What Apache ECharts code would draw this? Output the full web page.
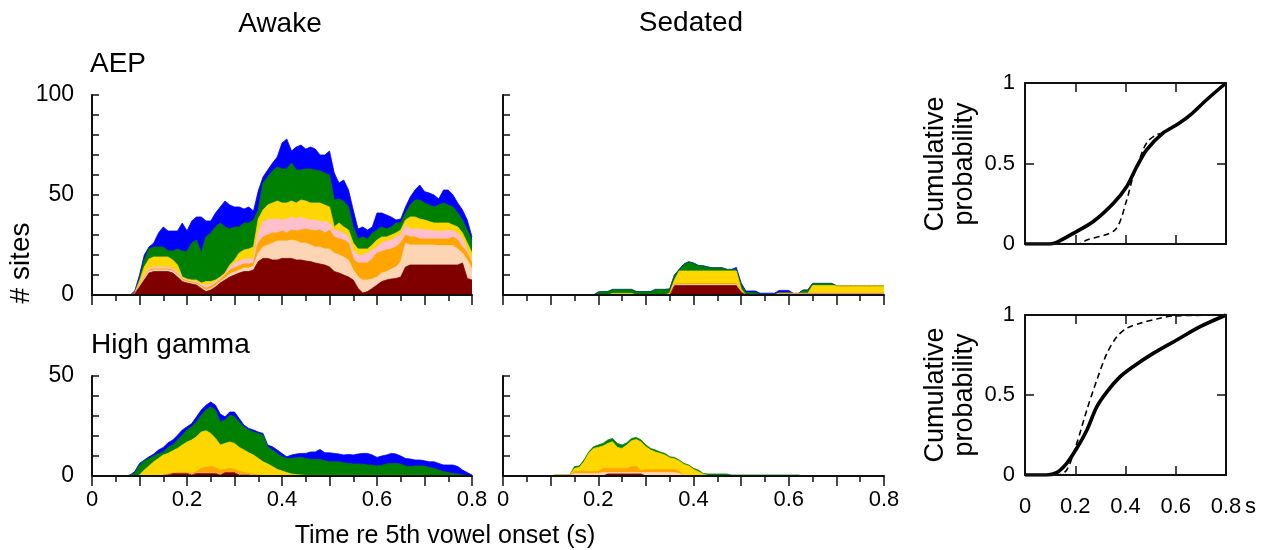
<!DOCTYPE html>
<html><head><meta charset="utf-8">
<script src="https://cdn.jsdelivr.net/npm/echarts@6/dist/echarts.min.js"></script>
<style>html,body{margin:0;padding:0;background:#fff}#c{width:1266px;height:550px}</style>
</head><body><div id="c"></div>
<script>
// ---------- time grid (s) ----------
const T = [0,0.01,0.02,0.03,0.04,0.05,0.06,0.07,0.08,0.09,
 0.10,0.11,0.12,0.13,0.14,0.15,0.16,0.17,0.18,0.19,
 0.20,0.21,0.22,0.23,0.24,0.25,0.26,0.27,0.28,0.29,
 0.30,0.31,0.32,0.33,0.34,0.35,0.36,0.37,0.38,0.39,
 0.40,0.41,0.42,0.43,0.44,0.45,0.46,0.47,0.48,0.49,
 0.50,0.51,0.52,0.53,0.54,0.55,0.56,0.57,0.58,0.59,
 0.60,0.61,0.62,0.63,0.64,0.65,0.66,0.67,0.68,0.69,
 0.70,0.71,0.72,0.73,0.74,0.75,0.76,0.77,0.78,0.79,
 0.80];

// ---------- Awake AEP: cumulative top of each layer (# sites) ----------
const aBlue = [0,0,0,0,0,0,0,0,0,2, 10,20,24,26,31,34,32,32,32,36, 32,37,39,39,37,37,41,44,47,45,
 44,44,43,44,42,52,59,62.5,66,69, 76,78,72,74,75,73,74,73,70,70, 72,61,56,57.5,52.5,42.5,33,34,32.5,34,
 41,41,40,39,37.5,38,44,49,52.5,55, 51.7,51,50,48,52.5,52.5,50,46,42.5,37.5, 29];
const aGreen = [0,0,0,0,0,0,0,0,0,1.5, 8,17.5,23,24,24,24,22,22,23,22, 21.7,26,27.5,21,29,31,34,36,34,33,
 34,34,36,36,37.5,42.5,56,59,62,64, 63,63,66,62.5,62.5,63,63,62.5,62,61, 60,47.5,48,47,44,34,28,29,28,31,
 32.5,34,33,34,36,36,41,45,47.5,47.5, 46,45,44,45,46,45,44,41,37.5,32.5, 27.5];
const aGold = [0,0,0,0,0,0,0,0,0,1.2, 7,14,18,19,19,19,19,17.5,15,9, 8,7.5,7.5,6,6.7,6.7,7.5,9,11,15,
 17.5,21,22.5,23,24,38,42.5,45,46,47, 46,46,47,46,47.5,47,46,46,46,45, 44,34,36,34,32.5,26,23,23,23,25,
 27.5,29,29,30,31,32.5,37.5,39,39,38, 37.5,36.7,36,36,36,36,35,34,31,26, 21];
const aPink = [0,0,0,0,0,0,0,0,0,1, 5.5,10,13.5,14,14,14,14,13.5,11.5,8.5, 7.5,7,6.8,5.3,5,5.5,6.8,8.5,10.5,14,
 16,17,18,18,18.5,31,36.7,37.5,38,38, 37.5,38,39,38,39,38,37.5,37.5,36.7,36.7, 36,32.5,32,31,29,22.5,20,20,21,22.5,
 24,26,27,27.5,29,30,35,33,33,33, 32.5,32.5,32,32,32,32.5,32,31,28,22.5, 17.5];
const aOrange = [0,0,0,0,0,0,0,0,0,1, 5,9,12.5,13,13,13,13,12.5,10.5,8, 7,6.5,6,4.5,3.5,4.2,5.8,7.8,10,12.5,
 13.5,14.5,15.5,15.5,16,26,29,30,31,31, 32,31,32.5,32,32.5,33,32.5,32,32.5,31, 32.5,29,28,27.5,26,18,16,16,16,18,
 21,21.7,22.5,23,24,26,30,29,29,28, 28,28,28,28,28,28,29,27.5,24,21, 16];
const aPeach = [0,0,0,0,0,0,0,0,0,1, 4.5,8.5,12,12.5,12.5,12.5,12.5,12,10,7.5, 6.5,6,5.5,4,2.5,3.2,4.8,6.8,8.5,10.5,
 11.5,12.5,13.5,13.5,14.5,21,24,25,26,27, 27,27,27.5,27,26,26,25,24,24,23, 23,21,20,19,17.5,12.5,9,7.5,7.5,8,
 9,11,11.7,13,14,16.7,26,25,25,25, 25,25,25,24.7,24.7,24.7,24.7,23,21,17.5, 13];
const aRed = [0,0,0,0,0,0,0,0,0,1, 4,7.5,11,11.7,11.7,11.7,11.7,11,9,6.7, 6,5.5,5,3.3,1.7,2.5,4,6,7.5,9,
 10,11,11.7,11.7,12.5,16.7,18.3,18.3,17.5,17.5, 18.3,18.3,18.3,17.5,17.5,17,16.7,16,15.5,15, 14,11.7,11,10,9,7.5,3.3,1,1.7,3.3,
 5,6.7,7.5,8,8.3,9,14,15,15,15, 15,15,15,15,15,15,15,15,16,8.3, 7.5];

// ---------- Sedated AEP ----------
const sBlue = [0,0,0,0,0,0,0,0,0,0, 0,0,0,0,0,0,0,0,0,0, 1.5,1.7,1.7,2.8,2.8,2.8,2.8,2.8,1.7,1.7,
 1.7,1.7,2.8,2.8,2.8,3,10,12.8,15.5,16.6, 16,14.8,14.6,14,13.6,13.6,13.6,12.8,12.8,13.8, 6,2,2,2,0.9,0.9,0.9,0.9,2.3,2.3,
 2.3,0.8,0.8,2.5,2.5,5.8,5.8,5.8,5.8,5.8, 4.7,4.7,4.7,4.7,4.7,4.7,4.7,4.7,4.7,4.7, 4.7];
const sGreen = [0,0,0,0,0,0,0,0,0,0, 0,0,0,0,0,0,0,0,0,0, 1.5,1.7,1.7,2.8,2.8,2.8,2.8,2.8,1.7,1.7,
 1.7,1.7,2.8,2.8,2.8,3,10,12.8,15.5,16.6, 16,14.8,14.6,14,13.6,13.6,13.6,12.8,12.8,12.8, 5,1.2,1.2,1.2,0.4,0.4,0.4,0.4,1.2,1.2,
 1.2,0.8,0.8,2.5,2.5,5.8,5.8,5.8,5.8,5.8, 4.7,4.7,4.7,4.7,4.7,4.7,4.7,4.7,4.7,4.7, 4.7];
const sGold = [0,0,0,0,0,0,0,0,0,0, 0,0,0,0,0,0,0,0,0,0, 0,0,0,0.8,0.8,0.8,0.8,0.8,0,0,
 0,0,0,0,0,1,7.5,12,12,12, 12,12,12,12,12,12,12,12,12,12, 3,0,0,0,0,0,0,0,0.8,0.8,
 0.8,0.8,0.8,0.8,0.8,4.7,4.7,4.7,4.7,4.7, 4.7,4.7,4.7,4.7,4.7,4.7,4.7,4.7,4.7,4.7, 4.7];
const sOrange = [0,0,0,0,0,0,0,0,0,0, 0,0,0,0,0,0,0,0,0,0, 0,0,0,0,0,0,0,0,0,0,
 0,0,0,0,0,0,5.5,5.8,5.8,5.8, 5.8,5.8,5.8,5.8,5.8,5.8,5.8,5.8,5.8,5.8, 2,0,0,0,0,0,0,0,0.8,0.8,
 0.8,0.8,0.8,0.8,0.8,1,1,1,1,1, 1,1,1,1,1,1,1,1,1,1, 1];
const sPeach = [0,0,0,0,0,0,0,0,0,0, 0,0,0,0,0,0,0,0,0,0, 0,0,0,0,0,0,0,0,0,0,
 0,0,0,0,0,0,5,5.2,5.2,5.2, 5.2,5.2,5.2,5.2,5.2,5.2,5.2,5.2,5.2,5.2, 1.7,0,0,0,0,0,0,0,0.8,0.8,
 0.8,0.8,0.8,0.8,0.8,0.8,0.8,0.8,0.8,0.8, 0.8,0.8,0.8,0.8,0.8,0.8,0.8,0.8,0.8,0.8, 0.8];
const sRed = [0,0,0,0,0,0,0,0,0,0, 0,0,0,0,0,0,0,0,0,0, 0,0,0,0,0,0,0,0,0,0,
 0,0,0,0,0,0,4.7,4.7,4.7,4.7, 4.7,4.7,4.7,4.7,4.7,4.7,4.7,4.7,4.7,4.7, 1.5,0,0,0,0,0,0,0,0.4,0.4,
 0.4,0.4,0.4,0.4,0.4,0.4,0.4,0.4,0.4,0.4, 0.4,0.4,0.4,0.4,0.4,0.4,0.4,0.4,0.4,0.4, 0.4];

// ---------- Awake high gamma ----------
const gBlue = [0,0,0,0,0,0,0,0,0.5,2.2, 6.3,8,9.6,11,13,14.3,16.6,18,20.4,23, 24.6,26.2,29.6,33,35.4,37,35.4,31,29.6,32,
 32,28.7,25.4,23.8,23,22,21.3,15.5,14.6,13, 11.3,9.6,10.5,11,11.3,11.3,12,12,13.3,11.6, 11.6,11.3,11,10.5,10.8,10.5,11,11.3,11.3,10.5,
 9.3,10,10.5,11.3,11,10,8.8,8.5,8,8, 7.6,7.1,7.1,6.3,5.5,5.5,5.5,4.7,3,1.7, 0.5];
const gGreen = [0,0,0,0,0,0,0,0,0.4,1.5, 5.5,7.6,8.8,10,11.3,12,14.3,15.5,18,20.4, 23,24.6,27,30.4,33,34.6,33,27,28,30.4,
 29.6,27,24.6,23,22,21.3,20.4,14.6,13,11.3, 9.6,8.8,8.8,9.1,9.3,8.8,8.3,8.3,8.3,7.6, 7.1,7.1,7.1,6.6,6.3,6,6,6,5.5,5.5,
 5,5.3,6,6.3,6.3,6,5,4.7,5,5, 5,4.3,3.8,3,2.2,1.7,1.3,1,0.5,0.3, 0];
const gGold = [0,0,0,0,0,0,0,0,0,0, 0.5,3,5,7.1,8.8,10.5,11.3,12.6,13.8,15.5, 17,18,19.6,22,22.6,21.3,18.8,15.5,16.3,17,
 16.3,14.3,13,11.6,10.5,8.8,7.1,6,4.7,3.3, 2.5,1.7,1,0.7,0.5,0.3,0.3,0.3,0.3,0.3, 0.3,0.3,0.3,0.3,0.3,0.3,0.3,0.3,0.3,0.3,
 0.3,0.3,0.3,0.3,0.3,0.3,0.3,0.3,0.3,0.3, 0.3,0,0,0,0,0,0,0,0,0, 0];
const gOrange = [0,0,0,0,0,0,0,0,0,0, 0,0,0,0,0,0.5,1,1.6,1.6,1.6, 1.6,1.3,2.2,3.8,4.3,4.7,4.3,3,3.3,3.8,
 3.3,2.2,1.7,1.3,1,0.5,0.3,0,0,0, 0,0,0,0,0,0,0,0,0,0, 0,0,0,0,0,0,0,0,0,0,
 0,0,0,0,0,0,0,0,0,0, 0,0,0,0,0,0,0,0,0,0, 0];
const gPeach = [0,0,0,0,0,0,0,0,0,0, 0,0,0,0,0,0.5,0.5,1.3,1.3,1.3, 1.3,0.8,1.5,1.5,1.5,1.5,1.5,0.8,1.8,1.8,
 1.8,0.8,0.8,0.6,0.3,0,0,0,0,0, 0,0,0,0,0,0,0,0,0,0, 0,0,0,0,0,0,0,0,0,0,
 0,0,0,0,0,0,0,0,0,0, 0,0,0,0,0,0,0,0,0,0, 0];
const gRed = [0,0,0,0,0,0,0,0,0,0, 0,0,0,0,0,0.3,0.5,1.2,1.3,1.3, 1.3,0.5,1.3,1.3,1.3,1.3,1.3,0.5,1.7,1.7,
 1.7,0.5,0.5,0.5,0,0,0,0,0,0, 0,0,0,0,0,0,0,0,0,0, 0,0,0,0,0,0,0,0,0,0,
 0,0,0,0,0,0,0,0,0,0, 0,0,0,0,0,0,0,0,0,0, 0];

// ---------- Sedated high gamma ----------
const zGreen = [0,0,0,0,0,0,0,0,0,0, 0,0.5,0.5,0.5,0.5,4.7,5,8,12,14.6, 15.5,16.3,18,18.8,16.3,15.5,16.6,18.8,19.3,18,
 15.5,13.8,13,12,11.3,9.6,9.3,8,6.3,5.5, 3.8,3,1.3,1,1,1,1,1,0.5,0.5, 0.5,0.5,0.5,0.5,0.5,0.5,0.5,0.5,0.5,0.5,
 0.5,0.5,0.5,0,0,0,0,0,0,0, 0,0,0,0,0,0,0,0,0,0, 0];
const zGold = [0,0,0,0,0,0,0,0,0,0, 0,0.5,0.5,0.5,0.5,3.8,4.3,7.1,11.3,13.8, 14.3,15,16.3,17.1,14.3,13.8,15.5,17.6,18.3,17,
 14.6,13,12,11.3,10.5,9.1,8.6,7.5,5.8,5, 3.3,2.2,1,0.3,0,0,0,0,0,0, 0,0,0,0,0,0,0,0,0,0,
 0,0,0,0,0,0,0,0,0,0, 0,0,0,0,0,0,0,0,0,0, 0];
const zOrange = [0,0,0,0,0,0,0,0,0,0, 0,0,0,0,0,2.2,2.2,2.2,2.2,2.2, 2.2,3.8,3.8,3.8,3.8,3.8,3.8,4.7,4.7,2.7,
 3.3,3.3,3.3,3.3,3.3,3.3,3.3,2.2,0,0, 0,0,0,0,0,0,0,0,0,0, 0,0,0,0,0,0,0,0,0,0,
 0,0,0,0,0,0,0,0,0,0, 0,0,0,0,0,0,0,0,0,0, 0];
const zPeach = [0,0,0,0,0,0,0,0,0,0, 0,0,0,0,0,1.3,1.3,1.3,1.3,1.3, 1.3,1.7,1.7,1.7,1.7,1.7,1.7,1.7,1.7,1.7,
 1.7,1.7,1.7,1.7,1.7,1.7,1.7,1.3,0,0, 0,0,0,0,0,0,0,0,0,0, 0,0,0,0,0,0,0,0,0,0,
 0,0,0,0,0,0,0,0,0,0, 0,0,0,0,0,0,0,0,0,0, 0];
const zRed = [0,0,0,0,0,0,0,0,0,0, 0,0,0,0,0,0,0,0,0,0, 0,0,1,1,1,1,1,1,1,1,
 0,0,0,0,0,0,0,0,0,0, 0,0,0,0,0,0,0,0,0,0, 0,0,0,0,0,0,0,0,0,0,
 0,0,0,0,0,0,0,0,0,0, 0,0,0,0,0,0,0,0,0,0, 0];

// ---------- Cumulative probability curves ----------
const cdfAepSolidX = [0,0.1,0.126,0.192,0.272,0.352,0.405,0.445,0.484,0.55,0.604,0.657,0.723,0.8];
const cdfAepSolidY = [0,0,0.01,0.066,0.14,0.253,0.357,0.48,0.585,0.69,0.74,0.80,0.896,1];
const cdfAepDashX = [0,0.212,0.246,0.358,0.405,0.43,0.45,0.47,0.49,0.524,0.55,0.604,0.657,0.723,0.8];
const cdfAepDashY = [0,0,0.025,0.087,0.274,0.42,0.5,0.585,0.64,0.68,0.69,0.74,0.80,0.896,1];
const cdfHgSolidX = [0,0.086,0.126,0.166,0.206,0.246,0.286,0.326,0.379,0.43,0.51,0.604,0.697,0.8];
const cdfHgSolidY = [0,0,0.015,0.073,0.167,0.28,0.427,0.52,0.615,0.677,0.76,0.844,0.927,1];
const cdfHgDashX = [0,0.126,0.166,0.206,0.246,0.286,0.326,0.366,0.405,0.458,0.537,0.59,0.8];
const cdfHgDashY = [0,0,0.031,0.198,0.406,0.594,0.76,0.865,0.917,0.948,0.98,0.994,1];

const timeTicks = [0,0.2,0.4,0.6,0.8];

// ---------- styling ----------
const FONT = 'Liberation Sans, Arial, Helvetica, sans-serif';
const AX = '#111';
const COLORS = {blue:'#0000FF', green:'#008000', gold:'#FFD700', pink:'#FFC0CB', orange:'#FFA500', peach:'#FCD5B4', red:'#800000'};

const grids = [
  {left:92, top:95, width:380, height:200},
  {left:503, top:95, width:381, height:200},
  {left:92, top:376, width:380, height:100},
  {left:503, top:376, width:381, height:100},
  {left:1025, top:83, width:201, height:161},
  {left:1025, top:315, width:201, height:160}
];

function timeX(gi, labels) {
  return {type:'value', gridIndex:gi, min:0, max:0.8, interval:0.1, z:10,
    axisLine:{show:true, onZero:false, lineStyle:{color:AX, width:2}},
    axisTick:{show:true, length:10, lineStyle:{color:AX, width:1.5}},
    minorTick:{show:true, splitNumber:2, length:6, lineStyle:{color:AX, width:1.5}},
    splitLine:{show:false}, minorSplitLine:{show:false},
    axisLabel:{show:labels, margin:13, fontSize:22, fontFamily:FONT, color:'#000',
      formatter:v => { const r = Math.round(v*10)/10; return timeTicks.some(t => Math.abs(t-r)<1e-6) ? String(r) : ''; }}
  };
}
function countY(gi, max, labels) {
  return {type:'value', gridIndex:gi, min:0, max:max, interval:10, z:10,
    axisLine:{show:true, onZero:false, lineStyle:{color:AX, width:2}},
    axisTick:{show:true, inside:true, length:7, lineStyle:{color:AX, width:1.5}},
    splitLine:{show:false},
    axisLabel:{show:labels, margin:18, fontSize:23, fontFamily:FONT, color:'#000',
      formatter:v => (v % 50 === 0 ? String(v) : '')}
  };
}
function cdfX(gi, pos, labels) {
  return {type:'value', gridIndex:gi, position:pos, min:0, max:0.8, interval:0.2, z:10,
    axisLine:{show:true, onZero:false, lineStyle:{color:AX, width:2}},
    axisTick:{show:true, inside:true, length:9, lineStyle:{color:AX, width:1.5}},
    splitLine:{show:false},
    axisLabel:{show:labels, margin:21, fontSize:22, fontFamily:FONT, color:'#000',
      formatter:v => String(Math.round(v*10)/10)}
  };
}
function cdfY(gi, pos, labels) {
  return {type:'value', gridIndex:gi, position:pos, min:0, max:1, interval:0.5, z:10,
    axisLine:{show:true, onZero:false, lineStyle:{color:AX, width:2}},
    axisTick:{show:true, inside:true, length:9, lineStyle:{color:AX, width:1.5}},
    splitLine:{show:false},
    axisLabel:{show:labels, margin:10, fontSize:22, fontFamily:FONT, color:'#000'}
  };
}

const xAxis = [timeX(0,false), timeX(1,false), timeX(2,true), timeX(3,true),
  cdfX(4,'bottom',false), cdfX(4,'top',false), cdfX(5,'bottom',true), cdfX(5,'top',false)];
const yAxis = [countY(0,100,true), countY(1,100,false), countY(2,50,true), countY(3,50,false),
  cdfY(4,'left',true), cdfY(4,'right',false), cdfY(5,'left',true), cdfY(5,'right',false)];

const series = [];
function addLayers(ai, layers) {
  // drawn from the top layer down; each filled from 0 to its cumulative top
  layers.forEach(([name, vals]) => {
    if (!vals) return;
    series.push({type:'line', name:name, xAxisIndex:ai, yAxisIndex:ai,
      data:T.map((t,i) => [t, vals[i]]), showSymbol:false, symbol:'none',
      lineStyle:{width:0.8, color:COLORS[name]}, areaStyle:{color:COLORS[name], opacity:1},
      silent:true});
  });
}
addLayers(0, [['blue',aBlue],['green',aGreen],['gold',aGold],['pink',aPink],['orange',aOrange],['peach',aPeach],['red',aRed]]);
addLayers(1, [['blue',sBlue],['green',sGreen],['gold',sGold],['orange',sOrange],['peach',sPeach],['red',sRed]]);
addLayers(2, [['blue',gBlue],['green',gGreen],['gold',gGold],['orange',gOrange],['peach',gPeach],['red',gRed]]);
addLayers(3, [['green',zGreen],['gold',zGold],['orange',zOrange],['peach',zPeach],['red',zRed]]);

function cdfLine(xi, yi, xs, ys, dashed) {
  series.push({type:'line', xAxisIndex:xi, yAxisIndex:yi, data:xs.map((x,i)=>[x, ys[i]]),
    showSymbol:false, symbol:'none', smooth:0.3, silent:true,
    lineStyle:dashed ? {color:'#000', width:1.6, type:[6,4]} : {color:'#000', width:3.6}});
}
cdfLine(4,4,cdfAepDashX,cdfAepDashY,true);
cdfLine(4,4,cdfAepSolidX,cdfAepSolidY,false);
cdfLine(6,6,cdfHgDashX,cdfHgDashY,true);
cdfLine(6,6,cdfHgSolidX,cdfHgSolidY,false);

function txt(x, y, s, size, opts) {
  return Object.assign({type:'text', x:x, y:y, silent:true,
    style:Object.assign({text:s, font:size+'px '+FONT, fill:'#000', textAlign:'center', textVerticalAlign:'middle'}, (opts||{}).style||{})},
    (opts||{}).el||{});
}
const graphic = [
  txt(280, 24, 'Awake', 28),
  txt(691, 23, 'Sedated', 28),
  txt(90, 64, 'AEP', 28, {style:{textAlign:'left'}}),
  txt(91, 345, 'High gamma', 28, {style:{textAlign:'left'}}),
  txt(21, 263, '# sites', 28, {el:{rotation:Math.PI/2}}),
  txt(445, 536, 'Time re 5th vowel onset (s)', 25),
  txt(936, 164, 'Cumulative', 27, {el:{rotation:Math.PI/2}}),
  txt(965, 164, 'probability', 27, {el:{rotation:Math.PI/2}}),
  txt(936, 395, 'Cumulative', 27, {el:{rotation:Math.PI/2}}),
  txt(965, 395, 'probability', 27, {el:{rotation:Math.PI/2}}),
  txt(1245, 507, 's', 22, {style:{textAlign:'left'}})
];

const chart = echarts.init(document.getElementById('c'), null, {renderer:'canvas'});
chart.setOption({animation:false, backgroundColor:'#fff', grid:grids, xAxis:xAxis, yAxis:yAxis, series:series, graphic:graphic});
</script></body></html>
